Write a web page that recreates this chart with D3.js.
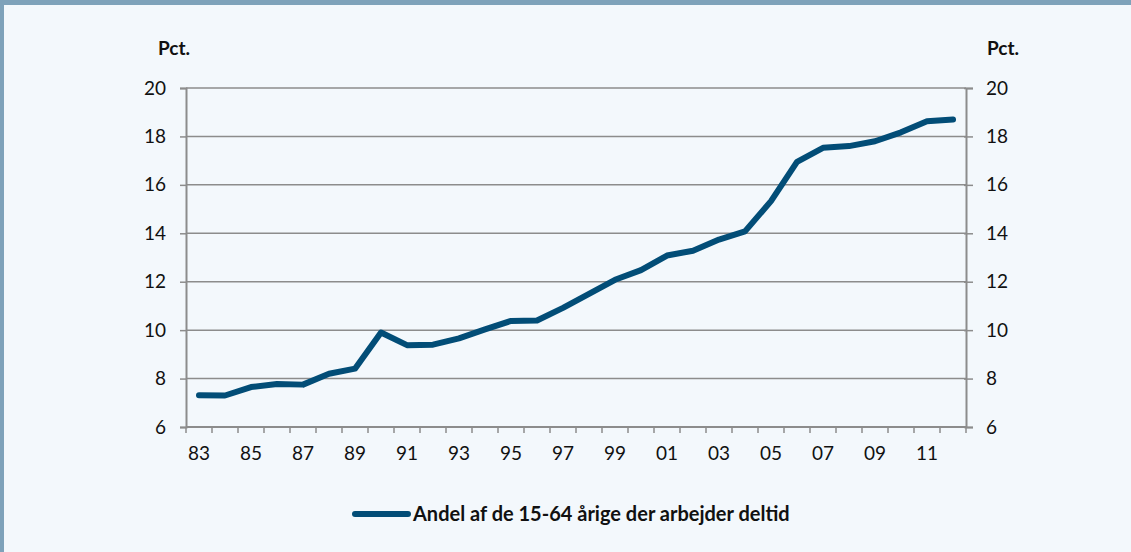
<!DOCTYPE html>
<html>
<head>
<meta charset="utf-8">
<script src="https://cdn.jsdelivr.net/npm/d3@7"></script>
<style>
  body { margin: 0; background: #f3f8fc; }
  svg { display: block; font-family: Lato, "Open Sans", sans-serif; }
</style>
</head>
<body>
<div class="chartCont"></div>
<script>
const w = 1131;
const h = 552;

// data: share of 15-64 year olds working part time, 1983-2012
const years = d3.range(1983, 2013);
const share = [7.31, 7.30, 7.65, 7.78, 7.75, 8.20, 8.41, 9.90, 9.38, 9.40,
               9.66, 10.03, 10.38, 10.40, 10.92, 11.50, 12.08, 12.48, 13.08, 13.28,
               13.74, 14.08, 15.33, 16.95, 17.53, 17.60, 17.80, 18.17, 18.63, 18.70];
const yTicks = [6, 8, 10, 12, 14, 16, 18, 20];
const seriesName = "Andel af de 15-64 årige der arbejder deltid";

const margin = {top: 88, right: 165, bottom: 125, left: 186};

const svg = d3.select(".chartCont").append("svg")
    .attr("width", w)
    .attr("height", h);

// frame: top band + left strip
svg.append("rect").attr("x", 0).attr("y", 0).attr("width", w).attr("height", 5).attr("fill", "#7ea2ba");
svg.append("rect").attr("x", 0).attr("y", 0).attr("width", 4).attr("height", h).attr("fill", "#7ea2ba");

const x = d3.scaleBand()
    .domain(years)
    .range([margin.left, w - margin.right]);

const y = d3.scaleLinear()
    .domain([6, 20])
    .range([h - margin.bottom, margin.top]);

const gridColor = "#8c8c8c";

// gridlines
svg.append("g")
    .selectAll("line")
    .data(yTicks.slice(1))
    .enter().append("line")
    .attr("x1", margin.left).attr("x2", w - margin.right)
    .attr("y1", d => y(d)).attr("y2", d => y(d))
    .attr("stroke", gridColor)
    .attr("stroke-width", 1.5);

// left axis
const yLeft = svg.append("g")
    .attr("transform", `translate(${margin.left},0)`)
    .call(d3.axisLeft(y).tickValues(yTicks).tickSize(6).tickPadding(14));

// right axis
const yRight = svg.append("g")
    .attr("transform", `translate(${w - margin.right},0)`)
    .call(d3.axisRight(y).tickValues(yTicks).tickSize(7).tickPadding(13));

// the right axis tick also pokes inside a bit
yRight.selectAll(".tick line").attr("x1", -2);

// x axis
const xAxis = d3.axisBottom(x)
    .tickValues(years)
    .tickSize(0)
    .tickPadding(20)
    .tickFormat(d => d % 2 === 1 ? String(d).slice(2) : "");

const xg = svg.append("g")
    .attr("transform", `translate(0,${h - margin.bottom})`)
    .call(xAxis);

// tick marks at band boundaries
xg.append("g")
    .selectAll("line")
    .data(years.concat([2013]))
    .enter().append("line")
    .attr("x1", d => d === 2013 ? x(2012) + x.bandwidth() : x(d))
    .attr("x2", d => d === 2013 ? x(2012) + x.bandwidth() : x(d))
    .attr("y1", 0).attr("y2", 6)
    .attr("stroke", gridColor)
    .attr("stroke-width", 1.5);

[yLeft, yRight, xg].forEach(g => {
  g.select(".domain").attr("stroke", gridColor).attr("stroke-width", 2);
  g.selectAll(".tick line").attr("stroke", gridColor).attr("stroke-width", 1.5);
  g.selectAll("text")
    .attr("fill", "#111")
    .style("font-size", "19px")
    .style("font-family", "Lato, sans-serif");
});
xg.select(".domain").attr("d", `M${margin.left},0H${w - margin.right}`);

// unit labels
svg.append("text")
    .attr("x", 174).attr("y", 55)
    .attr("text-anchor", "middle")
    .style("font-size", "19px").style("font-weight", "bold")
    .attr("fill", "#111")
    .text("Pct.");
svg.append("text")
    .attr("x", 1003).attr("y", 55)
    .attr("text-anchor", "middle")
    .style("font-size", "19px").style("font-weight", "bold")
    .attr("fill", "#111")
    .text("Pct.");

// line
const line = d3.line()
    .x((d, i) => x(years[i]) + x.bandwidth() / 2)
    .y(d => y(d));

svg.append("path")
    .datum(share)
    .attr("d", line)
    .attr("fill", "none")
    .attr("stroke", "#024d77")
    .attr("stroke-width", 6)
    .attr("stroke-linecap", "round")
    .attr("stroke-linejoin", "round");

// legend
const legend = svg.append("g").attr("transform", "translate(355,514)");
legend.append("line")
    .attr("x1", 0).attr("x2", 53)
    .attr("stroke", "#024d77")
    .attr("stroke-width", 6)
    .attr("stroke-linecap", "round");
legend.append("text")
    .attr("x", 58).attr("y", 7)
    .style("font-size", "20px").style("font-weight", "bold")
    .attr("fill", "#111")
    .text(seriesName);
</script>
</body>
</html>
